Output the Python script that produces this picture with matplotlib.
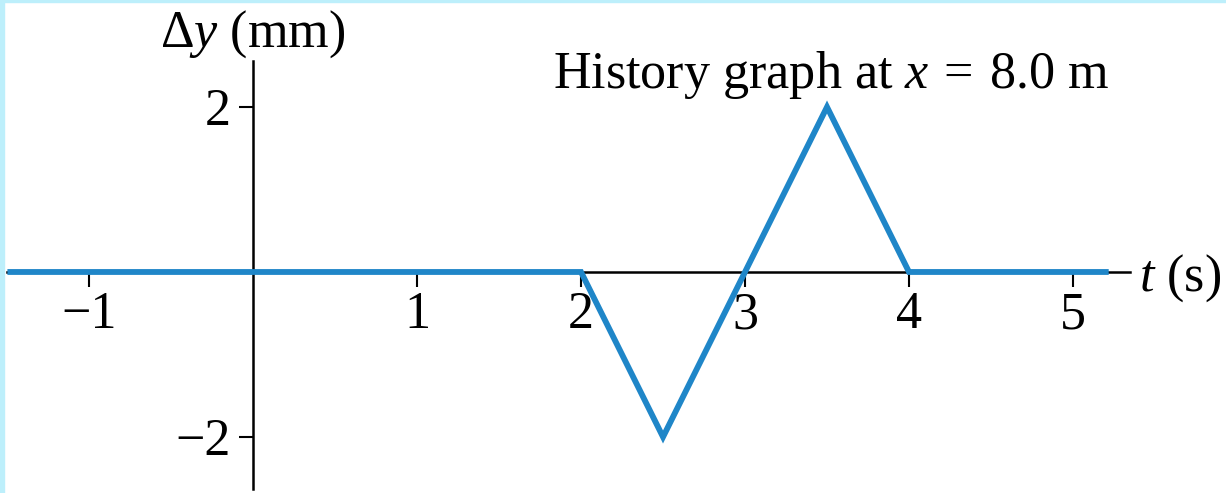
import matplotlib.pyplot as plt
from matplotlib.patches import Rectangle

plt.rcParams['font.family'] = 'Liberation Serif'
plt.rcParams['mathtext.fontset'] = 'custom'
plt.rcParams['mathtext.rm'] = 'Liberation Serif'
plt.rcParams['mathtext.it'] = 'Liberation Serif:italic'

# История смещения точки струны
t = [-1.48, 2.0, 2.5, 3.0, 3.5, 4.0, 5.2]
dy = [0, 0, -2, 0, 2, 0, 0]
xticks = [-1, 1, 2, 3, 4, 5]
yticks = [-2, 2]

fs = 37.5

fig = plt.figure(figsize=(12.26, 4.93), dpi=100)
ax = fig.add_axes([0, 0, 1, 1])
ax.set_xlim(-1.543, 5.933)
ax.set_ylim(-2.679, 3.297)

# оси через ноль
for s in ['top', 'right']:
    ax.spines[s].set_visible(False)
ax.spines['left'].set_position(('data', 0))
ax.spines['bottom'].set_position(('data', 0))
ax.spines['left'].set_bounds(-2.63, 2.56)
ax.spines['bottom'].set_bounds(-1.5, 5.35)
ax.spines['left'].set_linewidth(1.8)
ax.spines['bottom'].set_linewidth(1.8)

ax.set_xticks(xticks)
ax.set_yticks(yticks)
ax.set_xticklabels(['\u22121', '1', '2', '3', '4', '5'])
ax.set_yticklabels(['\u22122', '2'])
ax.tick_params(axis='x', direction='out', length=11, width=1.5, pad=3, labelsize=fs)
ax.tick_params(axis='y', direction='out', length=10, width=1.5, pad=6, labelsize=fs)
ax.patch.set_alpha(0)

ax.plot(t, dy, color='#1F86C8', lw=4.2, solid_joinstyle='miter', clip_on=False, zorder=3)

ax.text(0, 2.73, r'$\Delta y$ (mm)', ha='center', va='baseline', fontsize=fs)
ax.text(5.405, 0, r'$t$ (s)', ha='left', va='center_baseline', fontsize=fs)
ax.text(1.83, 2.23, r'History graph at $x\:=\:$8.0 m', ha='left', va='baseline', fontsize=fs)

# голубая рамка слева и сверху
fig.patches.append(Rectangle((0, 0), 4 / 1226, 1, transform=fig.transFigure,
                             color='#BDEFFB', zorder=0))
fig.patches.append(Rectangle((0, 1 - 2 / 493), 1, 2 / 493, transform=fig.transFigure,
                             color='#BDEFFB', zorder=0))

fig.savefig('out.png', dpi=100)
